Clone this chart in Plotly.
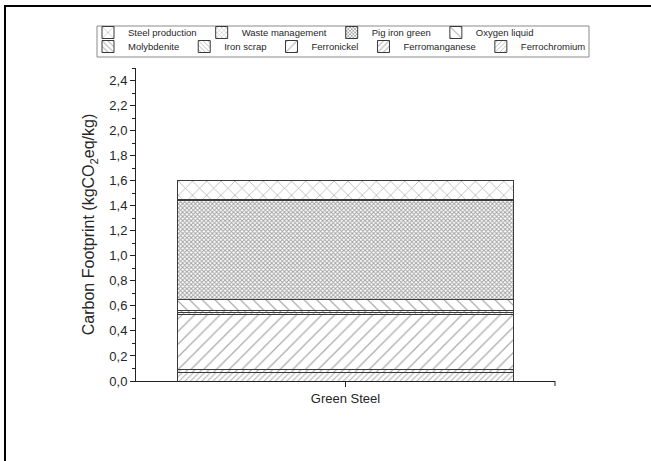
import plotly.graph_objects as go

categories = ["Green Steel"]

# stacked from bottom to top
series_names = ["Ferrochromium", "Ferromanganese", "Ferronickel", "Iron scrap",
                "Molybdenite", "Oxygen liquid", "Pig iron green",
                "Waste management", "Steel production"]
series_values = [0.07, 0.02, 0.44, 0.02, 0.015, 0.085, 0.79, 0.01, 0.15]

pattern_shapes = ["/", "/", "/", "\\", "\\", "\\", "x", "x", "x"]
pattern_sizes = [4, 5, 9, 4, 5, 9, 3, 4, 10]
pattern_solidity = [0.25, 0.25, 0.14, 0.25, 0.25, 0.14, 0.55, 0.25, 0.14]
pattern_fg = ["#5a5a5a", "#5a5a5a", "#5a5a5a", "#5a5a5a", "#5a5a5a",
              "#5a5a5a", "#444444", "#5a5a5a", "#5a5a5a"]
legend_row = ["legend2", "legend2", "legend2", "legend2", "legend2",
              "legend", "legend", "legend", "legend"]

y_ticks = [0.0, 0.2, 0.4, 0.6, 0.8, 1.0, 1.2, 1.4, 1.6, 1.8, 2.0, 2.2, 2.4]

FONT = "Liberation Sans, Arial, sans-serif"
TXT = "#262626"

# plot-area geometry (px) used to convert decoration positions to paper coords
L, R, T, B, W, H = 136, 96, 68, 80, 651, 461
PW, PH = W - L - R, H - T - B


def px_x(px):
    return (px - L) / PW


def px_y(py):
    return (H - B - py) / PH


fig = go.Figure()
for name, val, shp, sz, sol, fg, lg in zip(series_names, series_values, pattern_shapes,
                                             pattern_sizes, pattern_solidity, pattern_fg,
                                             legend_row):
    fig.add_trace(go.Bar(
        x=categories, y=[val], name=name, width=0.8, legend=lg,
        marker=dict(color="white",
                    line=dict(color="#3a3a3a", width=1),
                    pattern=dict(shape=shp, size=sz, solidity=sol,
                                 fgcolor=fg, bgcolor="white", fillmode="overlay")),
        hoverinfo="name+y",
    ))

leg_common = dict(orientation="h", xanchor="left", yanchor="top",
                  traceorder="reversed", font=dict(size=9.5, family=FONT, color=TXT),
                  bgcolor="rgba(0,0,0,0)", borderwidth=0, itemwidth=30,
                  tracegroupgap=0)

fig.update_layout(
    width=W, height=H,
    barmode="stack",
    separators=",.",
    paper_bgcolor="white", plot_bgcolor="white",
    margin=dict(l=L, r=R, t=T, b=B, autoexpand=False),
    font=dict(family=FONT, size=13, color=TXT),
    legend=dict(x=px_x(88), y=px_y(18), **leg_common),
    legend2=dict(x=px_x(88), y=px_y(32), **leg_common),
    xaxis=dict(type="category", range=[-0.5, 0.5], showline=True, linecolor="#222",
               linewidth=1, ticks="outside", ticklen=5, tickcolor="#222",
               showgrid=False, zeroline=False, tickfont=dict(size=13)),
    yaxis=dict(range=[0, 2.5], tickvals=y_ticks, tickformat=".1f",
               showline=True, linecolor="#222", linewidth=1,
               ticks="outside", ticklen=5, tickcolor="#222",
               minor=dict(dtick=0.1, ticks="outside", ticklen=3, tickcolor="#222"),
               showgrid=False, zeroline=False, tickfont=dict(size=13),
               title=dict(text="Carbon Footprint (kgCO<sub>2</sub>eq/kg)",
                          font=dict(size=16), standoff=10)),
    shapes=[
        # outer frame (left and top edges)
        dict(type="line", xref="paper", yref="paper", x0=px_x(5), x1=px_x(5),
             y0=px_y(H + 2), y1=px_y(6), line=dict(color="black", width=2)),
        dict(type="line", xref="paper", yref="paper", x0=px_x(4), x1=px_x(W + 2),
             y0=px_y(6), y1=px_y(6), line=dict(color="black", width=2)),
        # legend box
        dict(type="rect", xref="paper", yref="paper", x0=px_x(97), x1=px_x(589),
             y0=px_y(57), y1=px_y(26), line=dict(color="#8a8a8a", width=1), layer="below"),
        # end tick on x axis
        dict(type="line", xref="paper", yref="paper", x0=1, x1=1,
             ysizemode="pixel", yanchor=0, y0=0, y1=-5,
             line=dict(color="#222", width=1)),
    ],
)

fig.write_html("out.html", config={"displayModeBar": False},
               post_script="document.body.style.margin='0px';")
